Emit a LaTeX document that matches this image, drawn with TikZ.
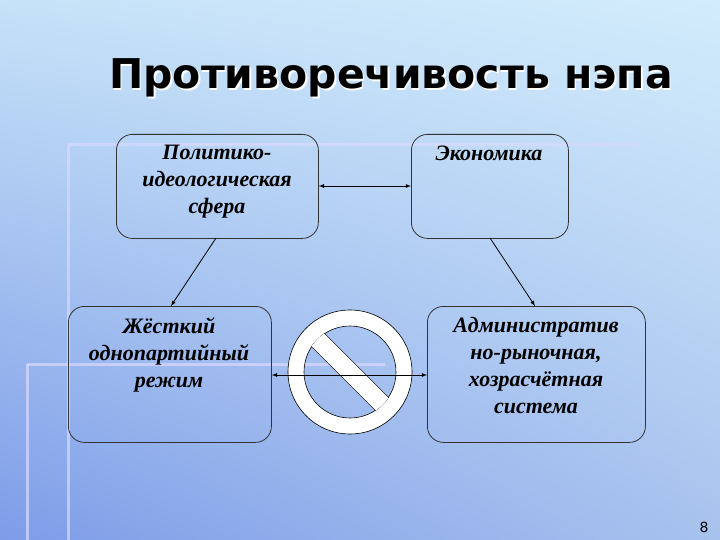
\documentclass[tikz,border=0pt]{standalone}
\usepackage{fontspec}
\usetikzlibrary{shadings}
\setmainfont{Liberation Serif}
\newfontfamily\titlefont{DejaVu Sans}
\begin{document}
\begin{tikzpicture}[x=1pt,y=-1pt,
  box/.style={draw=black!80,rounded corners=16pt,line width=0.8pt,align=center,anchor=north west,inner sep=0pt},
  txt/.style={font=\fontsize{22}{27}\selectfont\bfseries\itshape,align=center},
  arr/.style={-latex,line width=0.8pt},
  deco/.style={line width=3pt,white!85!blue,opacity=0.7}]
\definecolor{ul}{HTML}{C6E2F8}\definecolor{ur}{HTML}{D2ECFC}
\definecolor{ll}{HTML}{7E9CE8}\definecolor{lr}{HTML}{A8C2EE}
\useasboundingbox (0,0) rectangle (720,540);
\shade[upper left=ul,upper right=ur,lower left=ll,lower right=lr] (0,0) rectangle (720,540);
\draw[deco] (68,145) -- (640,145);
\draw[deco] (68,145) -- (68,540);
\draw[deco] (27,364) -- (385,364);
\draw[deco] (27,364) -- (27,540);
\node[white,font=\titlefont\fontsize{41}{46}\selectfont\bfseries] at (392.5,79.5) {Противоречивость нэпа};
\node (title) [font=\titlefont\fontsize{41}{46}\selectfont\bfseries] at (391,78) {Противоречивость нэпа};
\node (b1) [box,minimum width=202pt,minimum height=104pt] at (116,134) {};
\node (b2) [box,minimum width=157pt,minimum height=104pt] at (411,134) {};
\node (b3) [box,minimum width=203pt,minimum height=136pt] at (68,306) {};
\node (b4) [box,minimum width=218pt,minimum height=136pt] at (427,306) {};
\node (t1) [txt,anchor=north] at (217,142) {Политико-\\идеологическая\\сфера};
\node (t2) [txt,anchor=north] at (489,142) {Экономика};
\node (t3) [txt,anchor=north] at (169,314) {Жёсткий\\однопартийный\\режим};
\node (t4) [txt,anchor=north] at (536,314) {Административ\\но-рыночная,\\хозрасчётная\\система};
\coordinate (s1) at (216,238); \coordinate (e1) at (171,306);
\coordinate (s2) at (490,238); \coordinate (e2) at (535,306);
\draw[arr,latex-latex] (b1.east|-0,186) -- (b2.west|-0,186);
\draw[arr] (s1) -- (e1);
\draw[arr] (s2) -- (e2);
\coordinate (sign) at (350,372);
\fill[white,draw=black,line width=0.6pt,even odd rule] (sign) circle (62) (sign) circle (46);
\begin{scope}
\clip (sign) circle (46.3);
\draw[line width=19pt,black,line cap=butt] (sign) ++(225:60) -- ++(45:120);
\draw[line width=17.8pt,white,line cap=butt] (sign) ++(225:60) -- ++(45:120);
\end{scope}
\draw[arr,latex-latex] (b3.east|-0,375) -- (b4.west|-0,375);
\node (pg) [font=\titlefont\fontsize{14}{16}\selectfont] at (704,527) {8};
\end{tikzpicture}
\end{document}
